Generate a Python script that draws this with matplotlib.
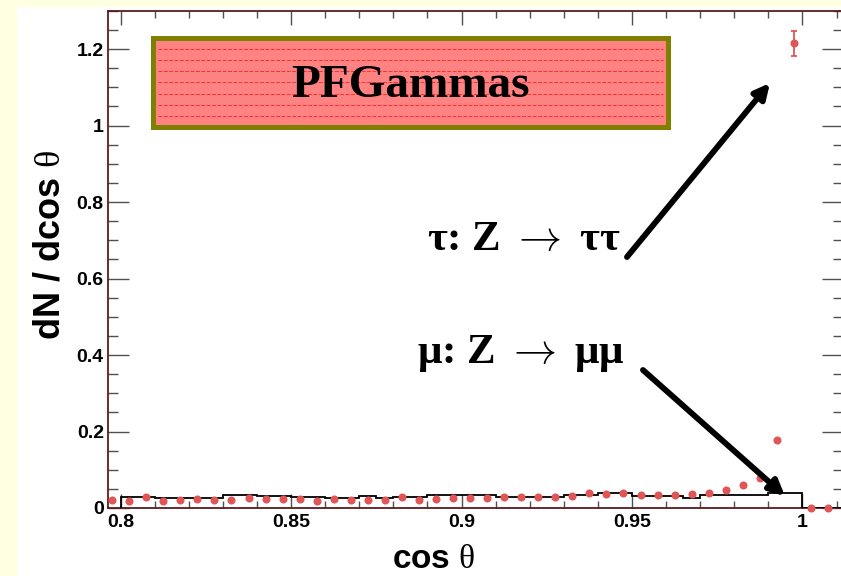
import matplotlib
matplotlib.use("Agg")
import matplotlib.pyplot as plt
import numpy as np
from matplotlib.patches import Rectangle
from matplotlib.lines import Line2D

# ---------------- data ----------------
point_x = [0.7975, 0.8025, 0.8075, 0.8125, 0.8175, 0.8225, 0.8275, 0.8325, 0.8375, 0.8425,
           0.8475, 0.8525, 0.8575, 0.8625, 0.8675, 0.8725, 0.8775, 0.8825, 0.8875, 0.8925,
           0.8975, 0.9025, 0.9075, 0.9125, 0.9175, 0.9225, 0.9275, 0.9325, 0.9375, 0.9425,
           0.9475, 0.9525, 0.9575, 0.9625, 0.9675, 0.9725, 0.9775, 0.9825, 0.9875, 0.9925,
           0.9975, 1.0025, 1.0075]
point_y = [0.021, 0.018, 0.030, 0.018, 0.020, 0.024, 0.020, 0.021, 0.025, 0.023,
           0.024, 0.024, 0.018, 0.024, 0.021, 0.021, 0.021, 0.028, 0.020, 0.024,
           0.027, 0.025, 0.025, 0.028, 0.030, 0.028, 0.030, 0.031, 0.038, 0.037,
           0.038, 0.033, 0.033, 0.033, 0.037, 0.039, 0.047, 0.059, 0.079, 0.178,
           1.215, 0.0, 0.0]
point_err = [0.0] * 40 + [0.033, 0.0, 0.0]

hist_edges = [0.800, 0.805, 0.810, 0.815, 0.820, 0.825, 0.830, 0.835, 0.840, 0.845,
              0.850, 0.855, 0.860, 0.865, 0.870, 0.875, 0.880, 0.885, 0.890, 0.895,
              0.900, 0.905, 0.910, 0.915, 0.920, 0.925, 0.930, 0.935, 0.940, 0.945,
              0.950, 0.955, 0.960, 0.965, 0.970, 0.975, 0.980, 0.985, 0.990, 0.995,
              1.000, 1.005, 1.010, 1.015]
hist_vals = [0.028, 0.028, 0.025, 0.025, 0.027, 0.027, 0.033, 0.033, 0.032, 0.032,
             0.028, 0.028, 0.027, 0.027, 0.032, 0.025, 0.028, 0.028, 0.035, 0.035,
             0.033, 0.033, 0.029, 0.029, 0.030, 0.030, 0.033, 0.033, 0.038, 0.038,
             0.032, 0.032, 0.032, 0.025, 0.033, 0.033, 0.033, 0.033, 0.038, 0.038,
             0.0, 0.0, 0.0]

x_ticks = [0.8, 0.85, 0.9, 0.95, 1.0]
x_ticklabels = ["0.8", "0.85", "0.9", "0.95", "1"]
y_ticks = [0, 0.2, 0.4, 0.6, 0.8, 1.0, 1.2]
y_ticklabels = ["0", "0.2", "0.4", "0.6", "0.8", "1", "1.2"]

title_box_text = "PFGammas"
tau_text = r"τ: Z$\;\rightarrow\;$ττ"
mu_text = r"μ: Z$\;\rightarrow\;$μμ"

plt.rcParams['mathtext.fontset'] = 'custom'
plt.rcParams['mathtext.rm'] = 'Liberation Serif'

W, H = 841, 576
fig = plt.figure(figsize=(W / 100, H / 100), dpi=100, facecolor='#FFFFE2')
# white canvas area
fig.patches.append(Rectangle((17 / W, 0), 1 - 17 / W, (H - 7) / H, transform=fig.transFigure,
                             facecolor='white', edgecolor='none', zorder=-10))

ax = fig.add_axes([108 / W, (H - 508) / H, (843 - 108) / W, (508 - 10.75) / H])
ax.set_zorder(5)
ax.set_facecolor('white')
ax.set_xlim(0.79627, 1.0119)
ax.set_ylim(0, 1.3)

ax.stairs(hist_vals, hist_edges, baseline=0, color='black', lw=1.3, zorder=3)
ax.errorbar(point_x, point_y, yerr=point_err, fmt='o', color='#e05555', ms=5.8,
            mec='none', elinewidth=1.3, capsize=2.5, capthick=1.3, zorder=4, clip_on=False)

ax.set_xticks(x_ticks)
ax.set_xticklabels(x_ticklabels)
ax.set_yticks(y_ticks)
ax.set_yticklabels(y_ticklabels)
ax.set_xticks(np.round(np.arange(0.8, 1.011, 0.01), 3), minor=True)
ax.set_yticks(np.round(np.arange(0, 1.31, 0.05), 3), minor=True)

tick_col = '#505050'
ax.tick_params(axis='x', which='major', direction='in', length=10, width=1, color=tick_col,
               top=True, bottom=True, pad=4)
ax.tick_params(axis='x', which='minor', direction='in', length=5, width=1, color=tick_col,
               top=True, bottom=True)
ax.tick_params(axis='y', which='major', direction='in', length=15, width=1, color=tick_col,
               left=True, right=True, pad=3)
ax.tick_params(axis='y', which='minor', direction='in', length=7.5, width=1, color=tick_col,
               left=True, right=True)
for lab in ax.get_xticklabels() + ax.get_yticklabels():
    lab.set_fontfamily('Liberation Sans')
    lab.set_fontweight('bold')
    lab.set_fontsize(14)

for s in ax.spines.values():
    s.set_color('#5a1c1c')
    s.set_linewidth(1.3)

ax.set_ylabel(r"dN / dcos $\mathrm{\theta}$", fontfamily='Liberation Sans', fontweight='bold',
              fontsize=26)
ax.yaxis.set_label_coords(-0.055, 0.53)
ax.set_xlabel(r"cos $\mathrm{\theta}$", fontfamily='Liberation Sans', fontweight='bold',
              fontsize=24)
ax.xaxis.set_label_coords(0.4435, -0.072)

# title box
bx0, bx1 = 0.80947, 0.96053
by0, by1 = 0.9961, 1.2288
ax.add_patch(Rectangle((bx0, by0), bx1 - bx0, by1 - by0, facecolor='#ff8383',
                       edgecolor='#808000', lw=3.6, zorder=5))
for yy in np.linspace(by0, by1, 9)[1:-1]:
    ax.add_line(Line2D([bx0 + 0.0015, bx1 - 0.0015], [yy, yy], color='#ff3030', lw=0.7,
                       ls=(0, (4, 1.5)), zorder=6))
ax.text((bx0 + bx1) / 2, (by0 + by1) / 2 - 0.008, title_box_text, ha='center', va='center',
        fontfamily='Liberation Serif', fontweight='bold', fontsize=34, zorder=7)

# annotations
ax.text(0.8899, 0.6745, tau_text, ha='left', va='baseline', math_fontfamily='cm',
        fontfamily=['Liberation Serif', 'DejaVu Serif'], fontweight='bold', fontsize=31, zorder=7)
ax.text(0.8869, 0.379, mu_text, ha='left', va='baseline', math_fontfamily='cm',
        fontfamily=['Liberation Serif', 'DejaVu Serif'], fontweight='bold', fontsize=31, zorder=7)

ap = dict(arrowstyle='-|>', lw=4.2, color='black', mutation_scale=22, shrinkA=0, shrinkB=0)
ax.annotate("", xy=(0.99047, 1.1111), xytext=(0.94852, 0.6562), arrowprops=ap, zorder=8)
ax.annotate("", xy=(0.99487, 0.0314), xytext=(0.95321, 0.3608), arrowprops=ap, zorder=8)

fig.savefig("out.png", dpi=100, facecolor=fig.get_facecolor())
